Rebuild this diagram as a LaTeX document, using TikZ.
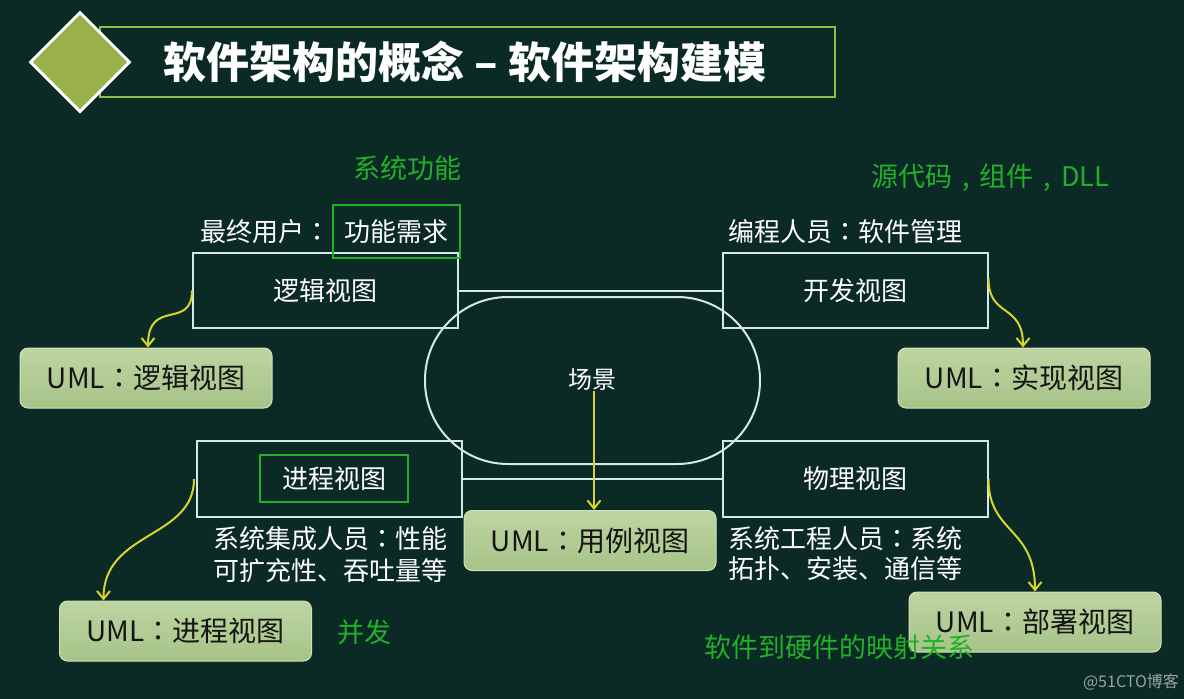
\documentclass[tikz,border=0pt]{standalone}
\usepackage{fontspec}
\setmainfont{Noto Sans CJK SC}
\newfontfamily\tcfont{Noto Sans CJK TC}
\newcommand\zcol{{\tcfont ：}}
\newcommand\zcom{\hspace{0.37em},\hspace{0.37em}}
\usetikzlibrary{arrows.meta,shapes.geometric}
\definecolor{bg}{RGB}{11,42,38}
\definecolor{lineC}{RGB}{214,234,228}
\definecolor{umltop}{RGB}{190,213,162}
\definecolor{umlbot}{RGB}{166,195,136}
\definecolor{umlborder}{RGB}{208,226,186}
\definecolor{yel}{RGB}{214,214,42}
\definecolor{grn}{RGB}{34,176,42}
\definecolor{olivefill}{RGB}{155,176,74}
\definecolor{tborder}{RGB}{141,190,69}
\definecolor{wm}{RGB}{150,165,160}
\tikzset{
  vbox/.style={draw=lineC, line width=2pt, minimum width=265pt, minimum height=75pt, text=white, font=\fontsize{26pt}{30pt}\selectfont},
  gbox/.style={draw=grn, line width=2.5pt, text=white, font=\fontsize{26pt}{30pt}\selectfont},
  conn/.style={draw=lineC, line width=2pt},
  umlbox/.style={rounded corners=8pt, top color=umltop, bottom color=umlbot, draw=umlborder, line width=1pt, text={black!92}, minimum width=252pt, minimum height=60pt, font=\fontsize{28pt}{32pt}\selectfont},
  yarrow/.style={draw=yel, line width=2pt, -{Straight Barb[length=8pt,width=13pt]}},
  wtext/.style={text=white, inner sep=0pt, font=\fontsize{26pt}{30pt}\selectfont},
  gtext/.style={text=grn, inner sep=0pt, font=\fontsize{27pt}{31pt}\selectfont}
}
\begin{document}
\begin{tikzpicture}[x=1pt,y=-1pt]
\path[fill=bg, use as bounding box] (0,0) rectangle (1184,699);
% title
\node[draw=tborder, line width=2pt, minimum width=735pt, minimum height=70pt] (tbox) at (467.5,62) {};
\node[diamond, draw=white, fill=olivefill, line width=3pt, minimum width=100pt, minimum height=100pt, inner sep=0pt] (dia) at (80,62) {};
\node[text=white, font=\fontsize{43pt}{47pt}\selectfont\bfseries] (title) at (465,62) {软件架构的概念 – 软件架构建模};
% view boxes
\node[vbox] (logic) at (325.5,290.5) {逻辑视图};
\node[vbox] (dev) at (855,290.5) {开发视图};
\node[vbox, minimum height=76pt] (proc) at (329.5,479) {};
\node[vbox, minimum height=76pt] (phys) at (855,479) {物理视图};
\node[gbox, minimum width=148pt, minimum height=47pt] (proctxt) at (334,478.5) {进程视图};
% scene
\node[draw=lineC, line width=2pt, rounded corners=83pt, minimum width=335pt, minimum height=167pt] (scene) at (592.5,380.5) {};
\node[wtext, font=\fontsize{24pt}{28pt}\selectfont] (scenetxt) at (592,380) {场景};
% connectors
\draw[conn] (logic.east) -- (dev.west);
\draw[conn] (proc.east) -- (phys.west);
% labels
\node[gtext] (sysfunc) at (407,168) {系统功能};
\node[gbox, minimum width=127pt, minimum height=53pt] (req) at (396.5,231.5) {功能需求};
\node[wtext, anchor=east] (enduser) at ([xshift=-1pt]req.west) {最终用户\zcol};
\node[gtext] (src) at (990,178) {源代码\zcom 组件\zcom DLL};
\node[wtext] (prog) at (845,232) {编程人员\zcol 软件管理};
\node[wtext, align=left, anchor=north west, font=\fontsize{26pt}{32pt}\selectfont] (integ) at (213,526) {系统集成人员\zcol 性能\\可扩充性、吞吐量等};
\node[wtext, align=left, anchor=north west, font=\fontsize{26pt}{30pt}\selectfont] (syseng) at (728,526) {系统工程人员\zcol 系统\\拓扑、安装、通信等};
\node[gtext] (conc) at (364,632) {并发};
% UML boxes
\node[umlbox] (umllogic) at (146,378) {UML\zcol 逻辑视图};
\node[umlbox] (umlimpl) at (1024,378) {UML\zcol 实现视图};
\node[umlbox] (umlproc) at (185.5,631) {UML\zcol 进程视图};
\node[umlbox] (umlcase) at (590,540.5) {UML\zcol 用例视图};
\node[umlbox] (umldeploy) at (1035,622) {UML\zcol 部署视图};
\node[gtext] (map) at (839,647) {软件到硬件的映射关系};
% arrows
\draw[yarrow] (logic.west) .. controls +(0,40) and +(0,-50) .. ([xshift=2pt]umllogic.north);
\draw[yarrow] ([yshift=12pt]dev.east) .. controls +(0,40) and +(0,-45) .. ([xshift=-1pt]umlimpl.north);
\draw[yarrow] ([xshift=-2pt]proc.west) .. controls +(0,60) and +(0,-70) .. ([xshift=-82pt]umlproc.north);
\draw[yarrow] (phys.east) .. controls +(0,55) and +(0,-65) .. (umldeploy.north);
\draw[yarrow] ([xshift=2pt]scenetxt.south) -- ([xshift=4pt]umlcase.north);
% watermark
\node[text=wm, inner sep=0pt, font=\fontsize{16pt}{18pt}\selectfont] (wmark) at (1131,682) {@51CTO博客};
\end{tikzpicture}
\end{document}
